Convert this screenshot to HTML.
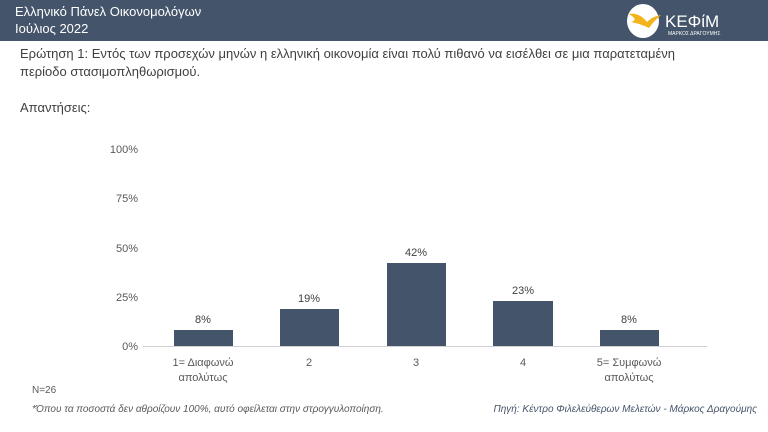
<!DOCTYPE html>
<html><head><meta charset="utf-8"><style>
body{margin:0;width:768px;height:432px;background:#fff;position:relative;overflow:hidden;font-family:"Liberation Sans","DejaVu Sans",sans-serif;}
.t{position:absolute;white-space:nowrap;}
</style></head><body>
<div style="position:absolute;left:0;top:0;width:768px;height:41px;background:#44546a"></div>
<div class="t" style="left:15px;top:4px;color:#fff;font-size:13px">Ελληνικό Πάνελ Οικονομολόγων</div>
<div class="t" style="left:15px;top:21px;color:#fff;font-size:13px">Ιούλιος 2022</div>
<svg style="position:absolute;left:625px;top:2px" width="130" height="38">
<ellipse cx="18" cy="19" rx="16" ry="17" fill="#fff"/>
<path d="M4 12 Q14 10 22 20 Q28 14 36 13 Q28 20 24 26 Q16 22 6 20 Q14 18 4 12Z" fill="#f2b31b"/>
<text x="40" y="25" fill="#fff" font-size="17" font-family="Liberation Sans Narrow,Liberation Sans,sans-serif">ΚΕΦίΜ</text>
<text x="43" y="33" fill="#fff" font-size="5">ΜΑΡΚΟΣ ΔΡΑΓΟΥΜΗΣ</text>
</svg>
<div class="t" style="left:20px;top:46px;color:#404040;font-size:13px">Ερώτηση 1: Εντός των προσεχών μηνών η ελληνική οικονομία είναι πολύ πιθανό να εισέλθει σε μια παρατεταμένη</div>
<div class="t" style="left:20px;top:64px;color:#404040;font-size:13px">περίοδο στασιμοπληθωρισμού.</div>
<div class="t" style="left:20px;top:100px;color:#404040;font-size:13px">Απαντήσεις:</div>
<svg style="position:absolute;left:0;top:0" width="768" height="432" font-family="Liberation Sans,sans-serif" font-size="11" fill="#595959">
<g text-anchor="end">
<text x="138" y="153">100%</text><text x="138" y="202">75%</text><text x="138" y="252">50%</text><text x="138" y="301">25%</text><text x="138" y="350">0%</text>
</g>
<line x1="143" y1="346.5" x2="707" y2="346.5" stroke="#d0d0d0"/>
<g fill="#44546a">
<rect x="174" y="330" width="59" height="16"/>
<rect x="280" y="309" width="59" height="37"/>
<rect x="387" y="263" width="59" height="83"/>
<rect x="493" y="301" width="60" height="45"/>
<rect x="600" y="330" width="59" height="16"/>
</g>
<g text-anchor="middle" fill="#404040">
<text x="203" y="323">8%</text><text x="309" y="302">19%</text><text x="416" y="256">42%</text><text x="523" y="294">23%</text><text x="629" y="323">8%</text>
</g>
<g text-anchor="middle">
<text x="203" y="366">1= Διαφωνώ</text><text x="203" y="381">απολύτως</text>
<text x="309" y="366">2</text><text x="416" y="366">3</text><text x="523" y="366">4</text>
<text x="629" y="366">5= Συμφωνώ</text><text x="629" y="381">απολύτως</text>
</g>
<text x="32" y="393" font-size="10">N=26</text>
<text x="32" y="412" font-size="10" font-style="italic">*Όπου τα ποσοστά δεν αθροίζουν 100%, αυτό οφείλεται στην στρογγυλοποίηση.</text>
<text x="757" y="412" font-size="10" font-style="italic" fill="#44546a" text-anchor="end">Πηγή: Κέντρο Φιλελεύθερων Μελετών - Μάρκος Δραγούμης</text>
</svg>
</body></html>
